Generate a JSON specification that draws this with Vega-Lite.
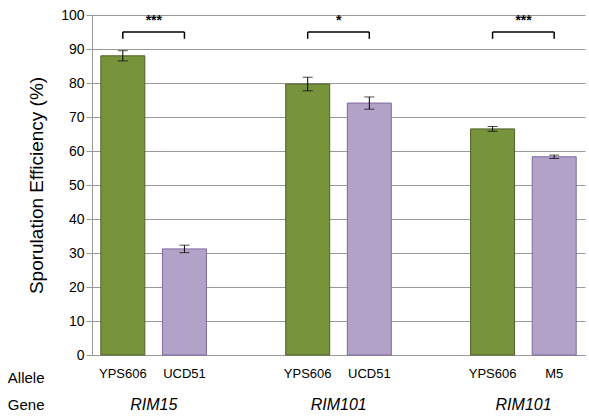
{
  "$schema": "https://vega.github.io/schema/vega-lite/v6.json",
  "width": 493,
  "height": 340,
  "autosize": {"type": "none"},
  "padding": {"left": 92, "top": 15, "right": 4, "bottom": 64},
  "config": {"view": {"stroke": null}, "font": "Arial, Liberation Sans"},
  "datasets": {
    "bars": [
      {"slot": "1", "allele": "YPS606", "value": 88, "err": 1.5, "group": "YPS606"},
      {"slot": "2", "allele": "UCD51", "value": 31.2, "err": 1.1, "group": "other"},
      {"slot": "4", "allele": "YPS606", "value": 79.7, "err": 2, "group": "YPS606"},
      {"slot": "5", "allele": "UCD51", "value": 74.1, "err": 1.8, "group": "other"},
      {"slot": "7", "allele": "YPS606", "value": 66.5, "err": 0.7, "group": "YPS606"},
      {"slot": "8", "allele": "M5", "value": 58.3, "err": 0.5, "group": "other"}
    ],
    "brackets": [
      {"a": "1", "b": "2", "y": 95, "y0": 93, "star": "***"},
      {"a": "4", "b": "5", "y": 95, "y0": 93, "star": "*"},
      {"a": "7", "b": "8", "y": 95, "y0": 93, "star": "***"}
    ],
    "genes": [
      {"slot": "1", "gene": "RIM15"},
      {"slot": "4", "gene": "RIM101"},
      {"slot": "7", "gene": "RIM101"}
    ],
    "rows": [
      {"slot": "1", "label": "Allele", "row": 0},
      {"slot": "1", "label": "Gene", "row": 1}
    ]
  },
  "layer": [
    {
      "data": {"name": "bars"},
      "mark": {"type": "bar", "width": 44, "strokeWidth": 1},
      "encoding": {
        "x": {
          "field": "slot", "type": "nominal",
          "scale": {"domain": ["1","2","3","4","5","6","7","8"], "paddingInner": 0, "paddingOuter": 0},
          "axis": {
            "title": null, "labelAngle": 0, "ticks": false, "labelFontSize": 13, "labelColor": "black",
            "labelPadding": 12, "domainColor": "#999999",
            "labelExpr": "{'1':'YPS606','2':'UCD51','4':'YPS606','5':'UCD51','7':'YPS606','8':'M5'}[datum.value] || ''"
          }
        },
        "y": {
          "field": "value", "type": "quantitative",
          "title": "Sporulation Efficiency (%)",
          "scale": {"domain": [0, 100]},
          "axis": {
            "titleFontSize": 19, "titleFontWeight": "normal",
            "titleColor": "black", "titlePadding": 14, "tickCount": 10, "labelFontSize": 14,
            "labelColor": "black", "gridColor": "#999999", "domainColor": "#999999",
            "tickColor": "#999999", "tickSize": 6
          }
        },
        "fill": {"field": "group", "type": "nominal", "scale": {"domain": ["YPS606", "other"], "range": ["#77933c", "#b3a2c7"]}, "legend": null},
        "stroke": {"field": "group", "type": "nominal", "scale": {"domain": ["YPS606", "other"], "range": ["#4f6228", "#7f6a9f"]}, "legend": null}
      }
    },
    {
      "data": {"name": "bars"},
      "transform": [{"calculate": "datum.value - datum.err", "as": "lo"}, {"calculate": "datum.value + datum.err", "as": "hi"}],
      "mark": {"type": "errorbar", "ticks": {"size": 10}, "color": "black"},
      "encoding": {
        "x": {"field": "slot", "type": "nominal"},
        "y": {"field": "lo", "type": "quantitative", "title": "Sporulation Efficiency (%)"},
        "y2": {"field": "hi"}
      }
    },
    {
      "data": {"name": "brackets"},
      "mark": {"type": "rule", "color": "black", "strokeWidth": 1.5},
      "encoding": {
        "x": {"field": "a", "type": "nominal"},
        "x2": {"field": "b"},
        "y": {"field": "y", "type": "quantitative", "title": "Sporulation Efficiency (%)"}
      }
    },
    {
      "data": {"name": "brackets"},
      "mark": {"type": "rule", "color": "black", "strokeWidth": 1.5},
      "encoding": {
        "x": {"field": "a", "type": "nominal"},
        "y": {"field": "y", "type": "quantitative", "title": "Sporulation Efficiency (%)"},
        "y2": {"field": "y0"}
      }
    },
    {
      "data": {"name": "brackets"},
      "mark": {"type": "rule", "color": "black", "strokeWidth": 1.5},
      "encoding": {
        "x": {"field": "b", "type": "nominal"},
        "y": {"field": "y", "type": "quantitative", "title": "Sporulation Efficiency (%)"},
        "y2": {"field": "y0"}
      }
    },
    {
      "data": {"name": "brackets"},
      "mark": {"type": "text", "fontSize": 14, "fontWeight": "bold", "xOffset": 31, "dy": -4, "baseline": "bottom"},
      "encoding": {
        "x": {"field": "a", "type": "nominal"},
        "y": {"field": "y", "type": "quantitative", "title": "Sporulation Efficiency (%)"},
        "text": {"field": "star"}
      }
    },
    {
      "data": {"name": "genes"},
      "mark": {"type": "text", "fontSize": 16, "fontStyle": "italic", "xOffset": 31, "dy": 50},
      "encoding": {
        "x": {"field": "slot", "type": "nominal"},
        "y": {"datum": 0, "type": "quantitative"},
        "text": {"field": "gene"}
      }
    },
    {
      "data": {"name": "rows"},
      "mark": {"type": "text", "fontSize": 15, "align": "left", "dx": -115},
      "encoding": {
        "x": {"field": "slot", "type": "nominal"},
        "y": {"datum": 0, "type": "quantitative"},
        "yOffset": {"field": "row", "type": "quantitative", "scale": {"domain": [0, 1], "range": [23, 50]}},
        "text": {"field": "label"}
      }
    }
  ]
}
